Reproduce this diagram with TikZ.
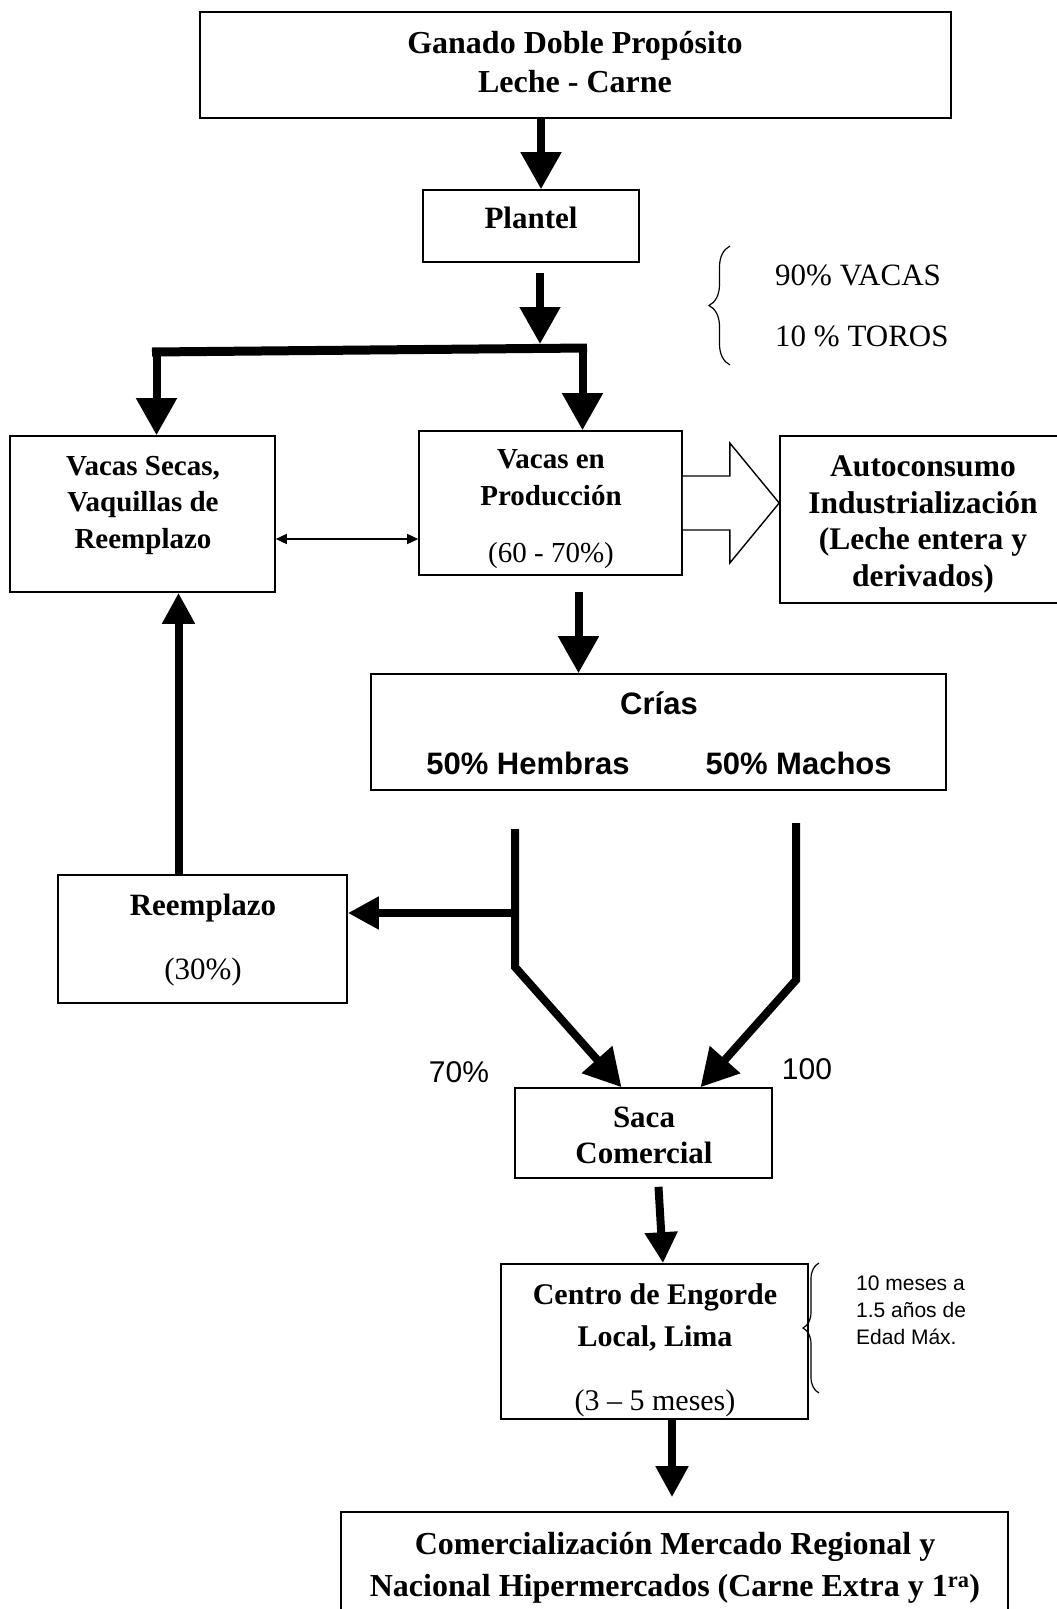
\documentclass[tikz,border=0pt]{standalone}
\usepackage{fontspec}
\setmainfont{Liberation Serif}
\setsansfont{Liberation Sans}
\usetikzlibrary{arrows.meta,decorations.pathreplacing}

\begin{document}
\begin{tikzpicture}[x=1pt,y=-1pt,
  box/.style={draw,line width=1.6pt,inner sep=0pt},
  txt/.style={align=center,inner sep=0pt,font=\bfseries\fontsize{31}{37}\selectfont},
  note/.style={inner sep=0pt,font=\fontsize{31}{37}\selectfont},
  fat/.style={line width=8pt,-{Triangle[length=37pt,width=39pt]}},
  fatsm/.style={line width=8pt,-{Triangle[length=31pt,width=31pt]}},
  link/.style={line width=1.5pt,{Triangle[length=11pt,width=10pt]}-{Triangle[length=11pt,width=10pt]}},
  curly/.style={decorate,line width=1.2pt}]
  \useasboundingbox (0,0) rectangle (1057,1609);
  \clip (0,0) rectangle (1057,1609);
  \fill[white] (0,0) rectangle (1057,1609);
  % Boxes
  \node[box,minimum width=751pt,minimum height=106pt] (herd) at (575.5,65) {};
  \node[box,minimum width=216pt,minimum height=72pt] (plantel) at (531,226) {};
  \node[box,minimum width=265pt,minimum height=156pt] (secas) at (142.5,514) {};
  \node[box,minimum width=263pt,minimum height=144pt] (prod) at (550.5,503) {};
  \node[box,minimum width=286pt,minimum height=167pt] (auto) at (923,519.5) {};
  \node[box,minimum width=575pt,minimum height=116pt] (crias) at (658.5,732) {};
  \node[box,minimum width=289pt,minimum height=128pt] (reemp) at (202.5,939) {};
  \node[box,minimum width=257pt,minimum height=90pt] (saca) at (643.5,1133) {};
  \node[box,minimum width=307pt,minimum height=155pt] (engorde) at (654.5,1341.5) {};
  \node[box,minimum width=667pt,minimum height=115pt] (comer) at (674.5,1569.5) {};
  % Box texts
  \node[txt,font=\bfseries\fontsize{32}{39}\selectfont] (herd-t) at (575,62) {Ganado Doble Propósito\\Leche - Carne};
  \node[txt] (plantel-t) at (531,218) {Plantel};
  \node[txt,font=\bfseries\fontsize{29}{36.5}\selectfont] (secas-t) at (143,505) {Vacas Secas,\\Vaquillas de\\Reemplazo};
  \node[txt,font=\bfseries\fontsize{29}{37}\selectfont] (prod-t) at (551,509.5) {Vacas en\\Producción\\[20pt]{\mdseries (60 - 70\%)}};
  \node[txt,font=\bfseries\fontsize{31.5}{36.7}\selectfont] (auto-t) at (923,524.5) {Autoconsumo\\Industrialización\\(Leche entera y\\derivados)};
  \node[txt,font=\sffamily\bfseries\fontsize{31}{37}\selectfont] (crias-t) at (659,733) {Crías\\[23pt]50\% Hembras\hspace{76pt}50\% Machos};
  \node[txt] (reemp-t) at (203,940.5) {Reemplazo\\[27pt]{\mdseries (30\%)}};
  \node[txt,font=\bfseries\fontsize{31}{36}\selectfont] (saca-t) at (644,1135) {Saca\\Comercial};
  \node[txt,font=\bfseries\fontsize{30}{42}\selectfont] (engorde-t) at (655,1350.5) {Centro de Engorde\\Local, Lima\\[22pt]{\mdseries (3 – 5 meses)}};
  \node[txt,font=\bfseries\fontsize{32}{42}\selectfont] (comer-t) at (675,1568) {Comercialización Mercado Regional y\\Nacional Hipermercados (Carne Extra y 1\textsuperscript{ra})};
  % Side notes
  \node[note,anchor=west] (vacas) at (775,275) {90\% VACAS};
  \node[note,anchor=west] (toros) at (775,336) {10 \% TOROS};
  \node[note,font=\sffamily\fontsize{30}{36}\selectfont] (p70) at (459,1072) {70\%};
  \node[note,font=\sffamily\fontsize{30}{36}\selectfont] (p100) at (807,1069) {100};
  \node[note,anchor=north west,align=left,font=\sffamily\fontsize{21}{27}\selectfont] (edad) at (856,1276) {10 meses a\\1.5 años de\\Edad Máx.};
  \draw[curly,decoration={brace,amplitude=21pt}] (730,365) -- (730,246);
  \draw[curly,decoration={brace,amplitude=16pt}] (819,1393) -- (819,1263);
  % Junction points
  \coordinate (barL) at (152,352);
  \coordinate (barR) at (587,348);
  \coordinate (split) at (540,344);
  \coordinate (hTop) at (515,829);
  \coordinate (hMid) at (515,913);
  \coordinate (hBend) at (515,967);
  \coordinate (mTop) at (796,823);
  \coordinate (mBend) at (796,980);
  % Arrows
  \draw[fat] ([xshift=10pt]plantel.north |- herd.south) -- ([xshift=10pt]plantel.north);
  \draw[fat] ([xshift=9pt,yshift=-10pt]plantel.south) -- (split);
  \draw[line width=9pt] (barL) -- (barR);
  \draw[fat] ([xshift=14pt]secas.north |- barL) -- ([xshift=14pt]secas.north);
  \draw[fat] ([xshift=32pt]prod.north |- barR) -- ([xshift=32pt]prod.north);
  \draw[link] ([yshift=-25pt]secas.east) -- ([yshift=-25pt]secas.east -| prod.west);
  \draw[line width=1.4pt,fill=white] ([yshift=27pt]prod.east) -- ++(47pt,0pt) -- ++(0pt,33pt)
    -- (auto.west |- prod.east) -- ([shift={(47pt,-60pt)}]prod.east) -- ++(0pt,33pt) -- ([yshift=-27pt]prod.east);
  \draw[fat] ([xshift=28pt,yshift=-16pt]prod.south) -- ([xshift=28pt]prod.south |- crias.north);
  \draw[fat] (hTop) -- (hBend) -- ([xshift=-22pt]saca.north);
  \draw[fat] (mTop) -- (mBend) -- ([xshift=57pt]saca.north);
  \draw[fatsm] (hMid) -- (reemp.east |- hMid);
  \draw[fatsm] ([xshift=-24pt]reemp.north) -- ([xshift=-24pt]reemp.north |- secas.south);
  \draw[fatsm] ([xshift=15pt,yshift=-8pt]saca.south) -- ([xshift=8.5pt]engorde.north);
  \draw[fatsm,shorten >=14pt] ([xshift=17.5pt]engorde.south) -- ([xshift=17.5pt]engorde.south |- comer.north);
\end{tikzpicture}
\end{document}
